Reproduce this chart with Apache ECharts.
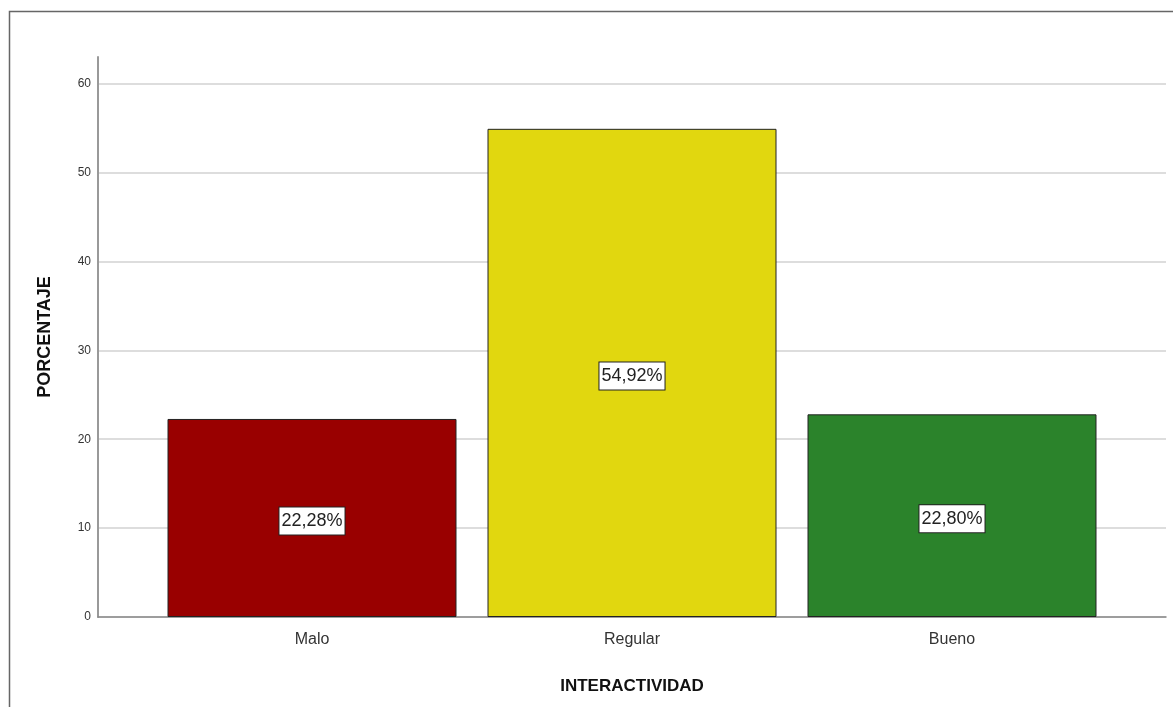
<!DOCTYPE html>
<html>
<head>
<meta charset="utf-8">
<script src="https://cdn.jsdelivr.net/npm/echarts@6/dist/echarts.min.js"></script>
<style>
html,body{margin:0;padding:0;background:#fff;}
#chart{width:1173px;height:707px;}
</style>
</head>
<body>
<div id="chart"></div>
<script>
const categories = ['Malo', 'Regular', 'Bueno'];
const values = [22.28, 54.92, 22.80];
const labels = ['22,28%', '54,92%', '22,80%'];
const barColors = ['#990000', '#E1D70F', '#2B832B'];
const yTicks = [0, 10, 20, 30, 40, 50, 60];

const chart = echarts.init(document.getElementById('chart'));
const font = 'Liberation Sans, Arial, sans-serif';
const yMax = 63;

chart.setOption({
  animation: false,
  backgroundColor: '#fff',
  graphic: [
    { type: 'rect', shape: { x: 9.5, y: 11.5, width: 1300, height: 900 },
      style: { fill: 'none', stroke: '#666', lineWidth: 1.5 }, z: 100 },
    { type: 'text', x: 45, y: 337, rotation: Math.PI / 2,
      style: { text: 'PORCENTAJE', font: 'bold 18px ' + font, fill: '#111',
               textAlign: 'center', textVerticalAlign: 'middle' } },
    { type: 'text', x: 632, y: 686,
      style: { text: 'INTERACTIVIDAD', font: 'bold 17px ' + font, fill: '#111',
               textAlign: 'center', textVerticalAlign: 'middle' } }
  ],
  grid: [
    { left: 98, right: 7, top: 57, bottom: 90 },
    { left: 152, right: 61, top: 57, bottom: 90 }
  ],
  xAxis: [
    { gridIndex: 0, type: 'value', min: 0, max: 1,
      axisLine: { show: true, lineStyle: { color: '#888', width: 1.5 } },
      axisTick: { show: false }, axisLabel: { show: false }, splitLine: { show: false } },
    { gridIndex: 1, type: 'category', data: categories,
      axisLine: { show: false }, axisTick: { show: false },
      axisLabel: { fontFamily: font, fontSize: 16, color: '#333', margin: 15 } }
  ],
  yAxis: [
    { gridIndex: 0, type: 'value', min: 0, max: yMax, interval: 10,
      axisLine: { show: true, lineStyle: { color: '#999', width: 2 } },
      axisTick: { show: false },
      axisLabel: { fontFamily: font, fontSize: 12, color: '#333', margin: 7,
                   showMaxLabel: false, padding: [3, 0, 0, 0],
                   formatter: v => yTicks.includes(v) ? String(v) : '' },
      splitLine: { show: true, showMaxLine: false, lineStyle: { color: '#d2d2d2', width: 1.5 } } },
    { gridIndex: 1, type: 'value', min: 0, max: yMax, interval: 10, show: false,
      splitLine: { show: false } }
  ],
  series: [{
    type: 'bar',
    xAxisIndex: 1, yAxisIndex: 1,
    barWidth: 289,
    data: values.map((v, i) => ({
      value: v,
      itemStyle: { color: barColors[i], borderColor: '#222', borderWidth: 1 }
    })),
    label: {
      show: true, position: 'inside', offset: [0, 3],
      formatter: p => labels[p.dataIndex],
      fontFamily: font, fontSize: 18, color: '#222',
      backgroundColor: '#fff', borderColor: '#222', borderWidth: 1,
      padding: [5, 2, 4, 2]
    }
  }]
});
</script>
</body>
</html>
